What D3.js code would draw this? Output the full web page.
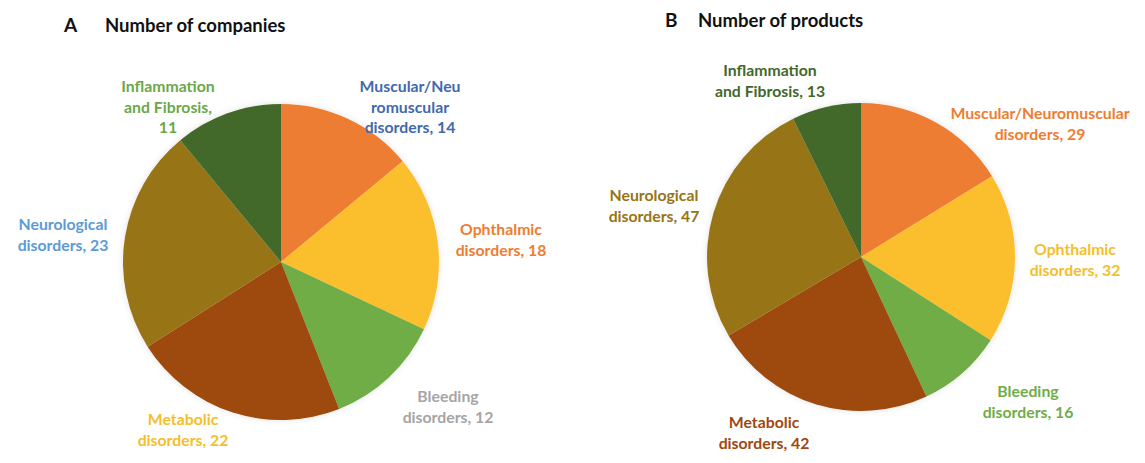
<!DOCTYPE html>
<html><head><meta charset="utf-8">
<script src="https://cdn.jsdelivr.net/npm/d3@7"></script>
<style>
html,body{margin:0;padding:0;background:#fff;}
text{font-family:Lato,"Open Sans",sans-serif;font-weight:700;}
</style></head><body>
<svg id="chart" width="1145" height="463"></svg>
<script>
// ---- data ----
const categories = ["Muscular/Neuromuscular disorders","Ophthalmic disorders","Bleeding disorders","Metabolic disorders","Neurological disorders","Inflammation and Fibrosis"];
const companies = [14, 18, 12, 22, 23, 11];
const products  = [29, 32, 16, 42, 47, 13];
const sliceColors = ["#ED7D31","#FBBF2D","#70AD47","#9E480E","#977415","#43682B"];
const panelLetters = ["A","B"];
const panelTitles = ["Number of companies","Number of products"];
// label line breaks (text only)
const labelsA = [["Muscular/Neu","romuscular","disorders, 14"],["Ophthalmic","disorders, 18"],["Bleeding","disorders, 12"],["Metabolic","disorders, 22"],["Neurological","disorders, 23"],["Inflammation","and Fibrosis,","11"]];
const labelsB = [["Muscular/Neuromuscular","disorders, 29"],["Ophthalmic","disorders, 32"],["Bleeding","disorders, 16"],["Metabolic","disorders, 42"],["Neurological","disorders, 47"],["Inflammation","and Fibrosis, 13"]];
const labelColorsA = ["#4169AE","#ED7D31","#A5A5A5","#F5BE2A","#5B9BD5","#6AA84A"];
const labelColorsB = ["#ED7D31","#F5BE2A","#70AD47","#9E480E","#977415","#43682B"];

// ---- layout ----
const panels = [
  {cx:281, cy:262, r:158, values:companies, labels:labelsA, lcol:labelColorsA,
   letterX:64, titleX:105, titleY:32,
   lpos:[[410,92],[501,235],[448,402],[183,425],[63,230],[168,92]]},
  {cx:861, cy:257, r:154, values:products, labels:labelsB, lcol:labelColorsB,
   letterX:665, titleX:698, titleY:27,
   lpos:[[1040,119],[1075,255],[1028,397],[764,428],[654,201],[770,76]]}
];

const svg = d3.select("#chart");
const defs = svg.append("defs");
const f = defs.append("filter").attr("id","sh").attr("x","-20%").attr("y","-20%").attr("width","140%").attr("height","140%");
f.append("feGaussianBlur").attr("in","SourceAlpha").attr("stdDeviation",3).attr("result","b");
f.append("feFlood").attr("flood-color","#000").attr("flood-opacity",0.12);
f.append("feComposite").attr("in2","b").attr("operator","in").attr("result","s");
const m = f.append("feMerge"); m.append("feMergeNode").attr("in","s"); m.append("feMergeNode").attr("in","SourceGraphic");

const pie = d3.pie().sort(null).value(d=>d);
const color = d3.scaleOrdinal().domain(categories).range(sliceColors);

panels.forEach((p,pi)=>{
  svg.append("text").attr("x",p.letterX).attr("y",p.titleY).attr("font-size",19).attr("fill","#111").text(panelLetters[pi]);
  svg.append("text").attr("x",p.titleX).attr("y",p.titleY).attr("font-size",18.5).attr("fill","#111").text(panelTitles[pi]);
  const arc = d3.arc().innerRadius(0).outerRadius(p.r);
  const g = svg.append("g").attr("transform",`translate(${p.cx},${p.cy})`).attr("filter","url(#sh)");
  g.selectAll("path").data(pie(p.values)).join("path")
    .attr("d",arc).attr("fill",(d,i)=>color(categories[i]));
  p.labels.forEach((lines,i)=>{
    const t = svg.append("text").attr("text-anchor","middle").attr("font-size",15.8)
      .attr("fill",p.lcol[i]).attr("x",p.lpos[i][0]).attr("y",p.lpos[i][1]);
    lines.forEach((ln,k)=>t.append("tspan").attr("x",p.lpos[i][0]).attr("dy",k?20.5:0).text(ln));
  });
});
</script></body></html>
